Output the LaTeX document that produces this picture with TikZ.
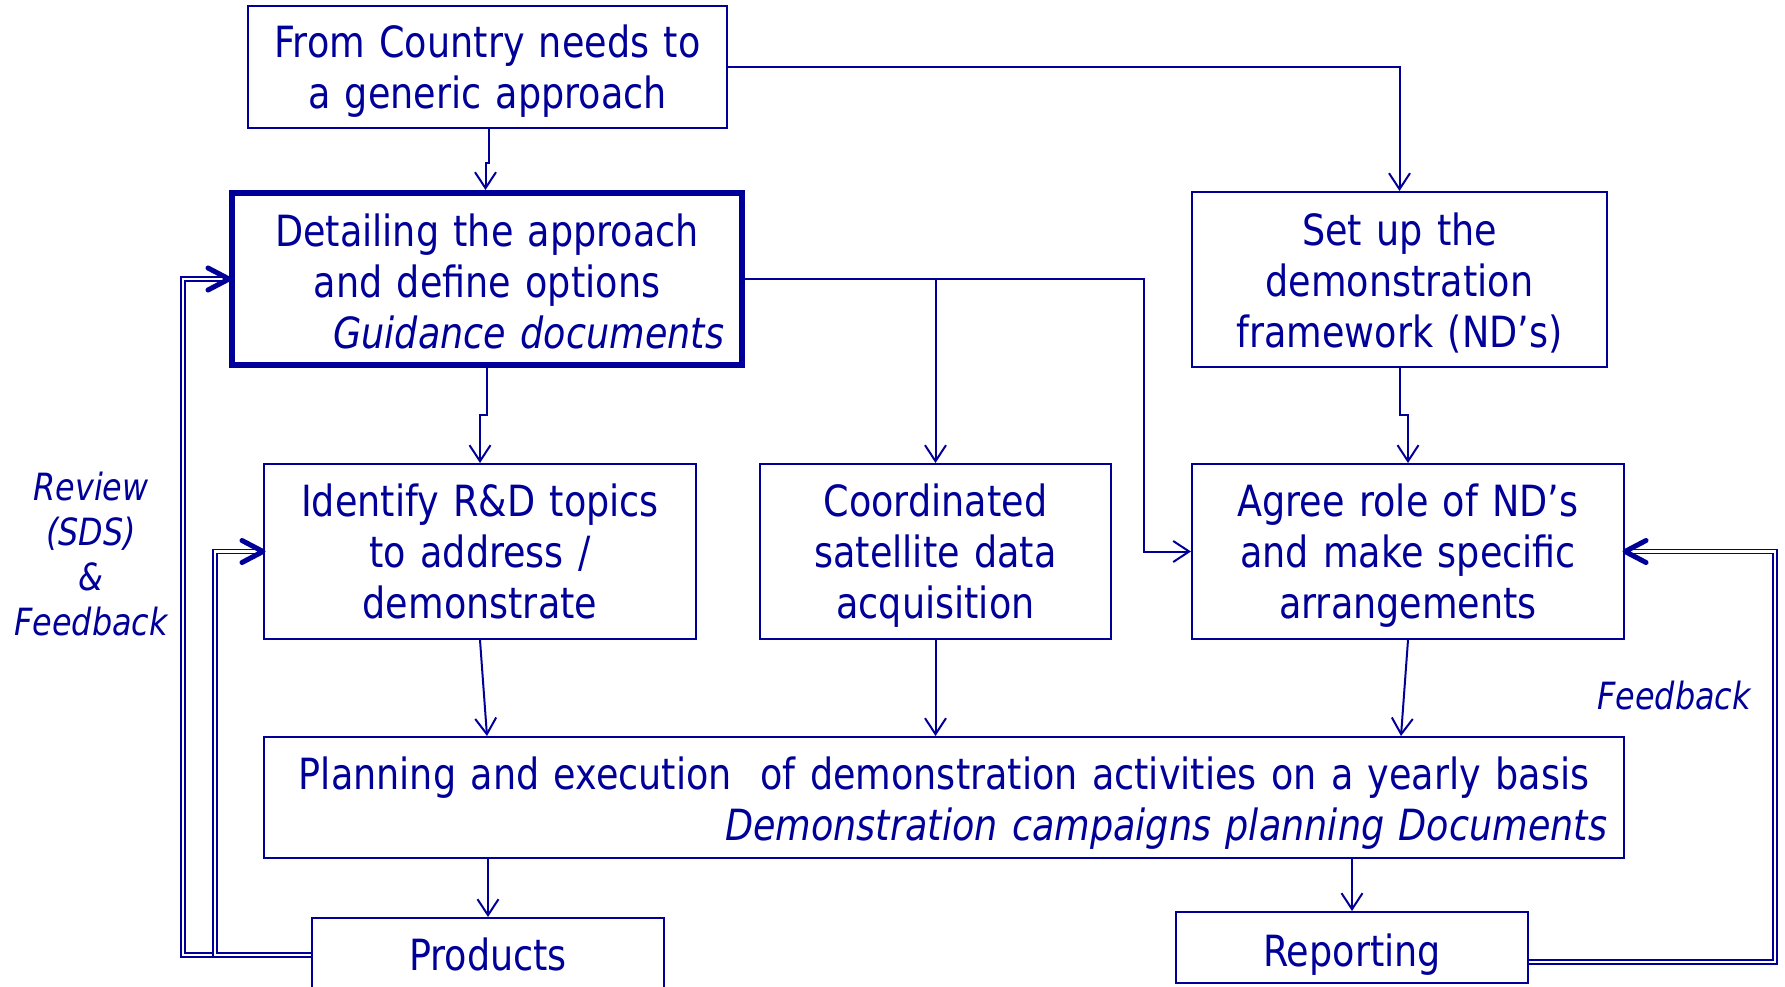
\documentclass[tikz,border=0pt]{standalone}
\usepackage{fontspec}
\setmainfont{DejaVu Sans}[FakeStretch=0.85]
\usetikzlibrary{arrows.meta}
\definecolor{navy}{RGB}{0,0,153}
% fixed line box so every box text sits at the same height
\newcommand\linestrut{\rule[-9.3pt]{0pt}{51pt}}

\begin{document}
\begin{tikzpicture}[x=1pt,y=-1pt,
  every node/.style={text=navy, font=\fontsize{43}{51}\selectfont},
  box/.style={draw=navy, line width=2pt, inner sep=0pt, align=center,
    execute at begin node=\linestrut, execute at end node=\linestrut},
  % taller first-line strut: pushes the text block down inside its box
  drop/.style={execute at begin node={\rule[-9.3pt]{0pt}{#1}}},
  lbl/.style={align=center, inner sep=0pt, font=\fontsize{37.5}{45}\selectfont\itshape},
  flow/.style={draw=navy, line width=2pt, -{Straight Barb[length=16pt,width=21pt]}},
  loopline/.style={draw=navy, line width=1.5pt, double=white, double distance=2.5pt},
  fbtip/.style={draw=navy, line width=5pt, line cap=round, line join=round}
]
\useasboundingbox (0,0) rectangle (1785,987);
\clip (0,0) rectangle (1785,987);

% boxes
\node[box, minimum width=479pt, minimum height=122pt, text width=479pt] (A) at (487.5,67)
  {From Country needs to\\a generic approach};
\node[box, drop=55.6pt, line width=6pt, minimum width=510pt, minimum height=172pt, text width=474pt] (B) at (487,279)
  {Detailing the approach\\and define options\\\mbox{}\hfill\textit{Guidance documents}};
\node[box, drop=53pt, minimum width=415pt, minimum height=175pt, text width=415pt] (C) at (1399.5,279.5)
  {Set up the\\demonstration\\framework (ND’s)};
\node[box, minimum width=432pt, minimum height=175pt, text width=432pt] (D) at (480,551.5)
  {Identify R\&D topics\\to address /\\demonstrate};
\node[box, minimum width=351pt, minimum height=175pt, text width=351pt] (E) at (935.5,551.5)
  {Coordinated\\satellite data\\acquisition};
\node[box, minimum width=432pt, minimum height=175pt, text width=432pt] (F) at (1408,551.5)
  {Agree role of ND’s\\and make specific\\arrangements};
\node[box, drop=53.2pt, minimum width=1360pt, minimum height=121pt, text width=1326pt] (G) at (944,797.5)
  {Planning and execution\ \ of demonstration activities on a yearly basis\\\mbox{}\hfill\textit{Demonstration campaigns planning Documents}};
\node[box, minimum width=352pt, minimum height=72pt, text width=352pt] (H) at (488,954) {Products};
\node[box, drop=55.6pt, minimum width=352pt, minimum height=71pt, text width=352pt] (R) at (1352,947.5) {Reporting};

% side labels
\node[lbl] (review) at (91,554.5) {Review\\(SDS)\\\&\\Feedback};
\node[lbl] (fb) at (1674,696) {Feedback};

% main flow
\draw[flow] ([xshift=1.5pt]A.south) -- ++(0,34) -| ([xshift=-1.5pt]B.north);
\draw[flow] (A.east) -| (C.north);
\coordinate (bj) at (1144,279);
\draw[flow] (B.east) -- (bj) |- (F.west);
\draw[flow] (E.north |- B.east) -- (E.north);
\draw[flow] (B.south) -- ++(0,47) -| (D.north);
\draw[flow] (C.south) -- ++(0,47) -| (F.north);
\draw[flow] (D.south) -- (B.south |- G.north);
\draw[flow] (E.south) -- (E.south |- G.north);
\draw[flow] (F.south) -- ([xshift=-7pt]F.south |- G.north);
\draw[flow] (H.north |- G.south) -- (H.north);
\draw[flow] (R.north |- G.south) -- (R.north);

% feedback loops
\coordinate (lo) at (183,955);
\coordinate (li) at (215,955);
\coordinate (ro) at (1775,962);
\draw[loopline] ([yshift=-1pt]H.west) -- (lo) |- (B.west);
\draw[loopline] ([yshift=-1pt]H.west) -- (li) |- (D.west);
\draw[loopline] ([yshift=-14.5pt]R.east) -- (ro) |- (F.east);
\draw[fbtip] (B.west) ++(-21,-11) -- (B.west) -- ++(-21,11);
\draw[fbtip] (D.west) ++(-21,-11) -- (D.west) -- ++(-21,11);
\draw[fbtip] (F.east) ++(21,-11) -- (F.east) -- ++(21,11);
\end{tikzpicture}
\end{document}
